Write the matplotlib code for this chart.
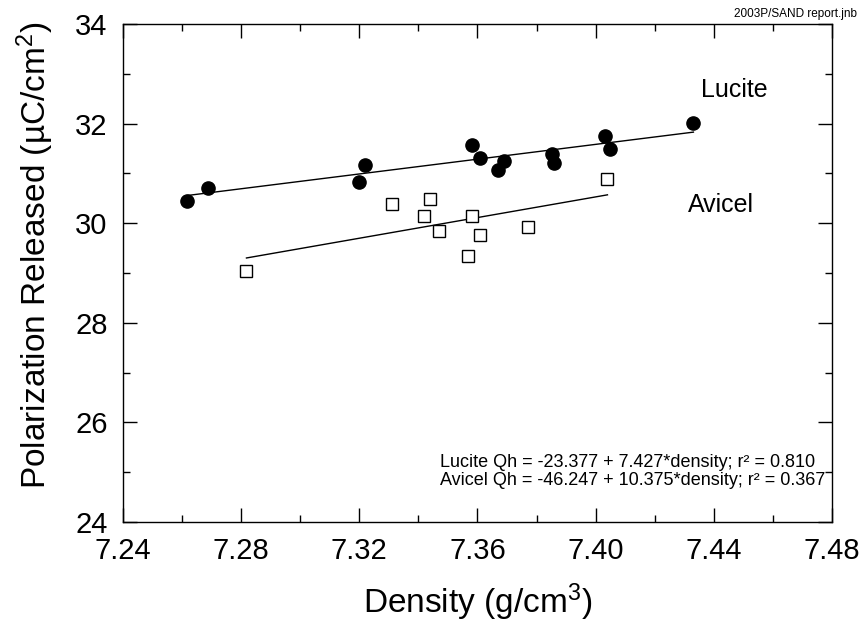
import matplotlib
matplotlib.use("Agg")
import matplotlib.pyplot as plt
import numpy as np
from matplotlib.ticker import MultipleLocator

plt.rcParams['font.family'] = ['Liberation Sans', 'DejaVu Sans']
plt.rcParams['mathtext.fontset'] = 'custom'
plt.rcParams['mathtext.rm'] = 'Liberation Sans'
plt.rcParams['mathtext.it'] = 'Liberation Sans:italic'
plt.rcParams['mathtext.bf'] = 'Liberation Sans:bold'

# Data
lucite_density = [7.2618, 7.2688, 7.3198, 7.3219, 7.3580, 7.3610, 7.3668, 7.3690,
                  7.3851, 7.3859, 7.4031, 7.4050, 7.4331]
lucite_qh = [30.45, 30.71, 30.83, 31.17, 31.58, 31.31, 31.06, 31.25,
             31.38, 31.20, 31.76, 31.48, 32.01]
avicel_density = [7.2818, 7.3310, 7.3419, 7.3439, 7.3470, 7.3580, 7.3610, 7.3569,
                  7.3771, 7.4040]
avicel_qh = [29.05, 30.38, 30.15, 30.49, 29.84, 30.14, 29.76, 29.34,
             29.93, 30.88]

lucite_coef = (-23.377, 7.427)
avicel_coef = (-46.247, 10.375)

x_ticks = [7.24, 7.28, 7.32, 7.36, 7.40, 7.44, 7.48]
y_ticks = [24, 26, 28, 30, 32, 34]

fig = plt.figure(figsize=(8.66, 6.38), dpi=100)
ax = fig.add_axes([0.142, 0.1818, 0.8187, 0.7806])

# regression lines
for xs, coef in ((lucite_density, lucite_coef), (avicel_density, avicel_coef)):
    xl = np.array([min(xs), max(xs)])
    ax.plot(xl, coef[0] + coef[1] * xl, color='black', lw=1.0, zorder=2)

ax.plot(lucite_density, lucite_qh, 'o', color='black', ms=9.5, zorder=3, linestyle='none')
ax.plot(avicel_density, avicel_qh, 's', mfc='white', mec='black', mew=1.0, ms=8,
        zorder=3, linestyle='none')

ax.set_xlim(7.24, 7.48)
ax.set_ylim(24, 34)
ax.set_xticks(x_ticks)
ax.set_xticklabels([f"{v:.2f}" for v in x_ticks])
ax.set_yticks(y_ticks)
ax.xaxis.set_minor_locator(MultipleLocator(0.02))
ax.yaxis.set_minor_locator(MultipleLocator(1))
ax.tick_params(which='both', direction='in', top=True, right=True, width=1.0)
ax.tick_params(which='major', length=10, labelsize=21, pad=11)
ax.tick_params(which='minor', length=5)
for s in ax.spines.values():
    s.set_linewidth(1.0)

ax.set_xlabel('Density (g/cm$^3$)', fontsize=24, labelpad=12)
ax.set_ylabel('Polarization Released (µC/cm$^2$)', fontsize=24)
ax.yaxis.set_label_coords(-0.094, 0.535)

ax.text(7.4358, 32.53, 'Lucite', fontsize=18, ha='left', va='baseline')
ax.text(7.4313, 30.22, 'Avicel', fontsize=18, ha='left', va='baseline')

ax.text(0.99, 0.0743,
        'Lucite Qh = -23.377 + 7.427*density; r² = 0.810\n'
        'Avicel Qh = -46.247 + 10.375*density; r² = 0.367',
        transform=ax.transAxes, ha='right', va='baseline', fontsize=13,
        multialignment='left', linespacing=1.05)

fig.text(857 / 866, 1 - 17 / 638, '2003P/SAND report.jnb', ha='right', va='baseline',
         fontsize=8.5)

fig.savefig('out.png', dpi=100)
